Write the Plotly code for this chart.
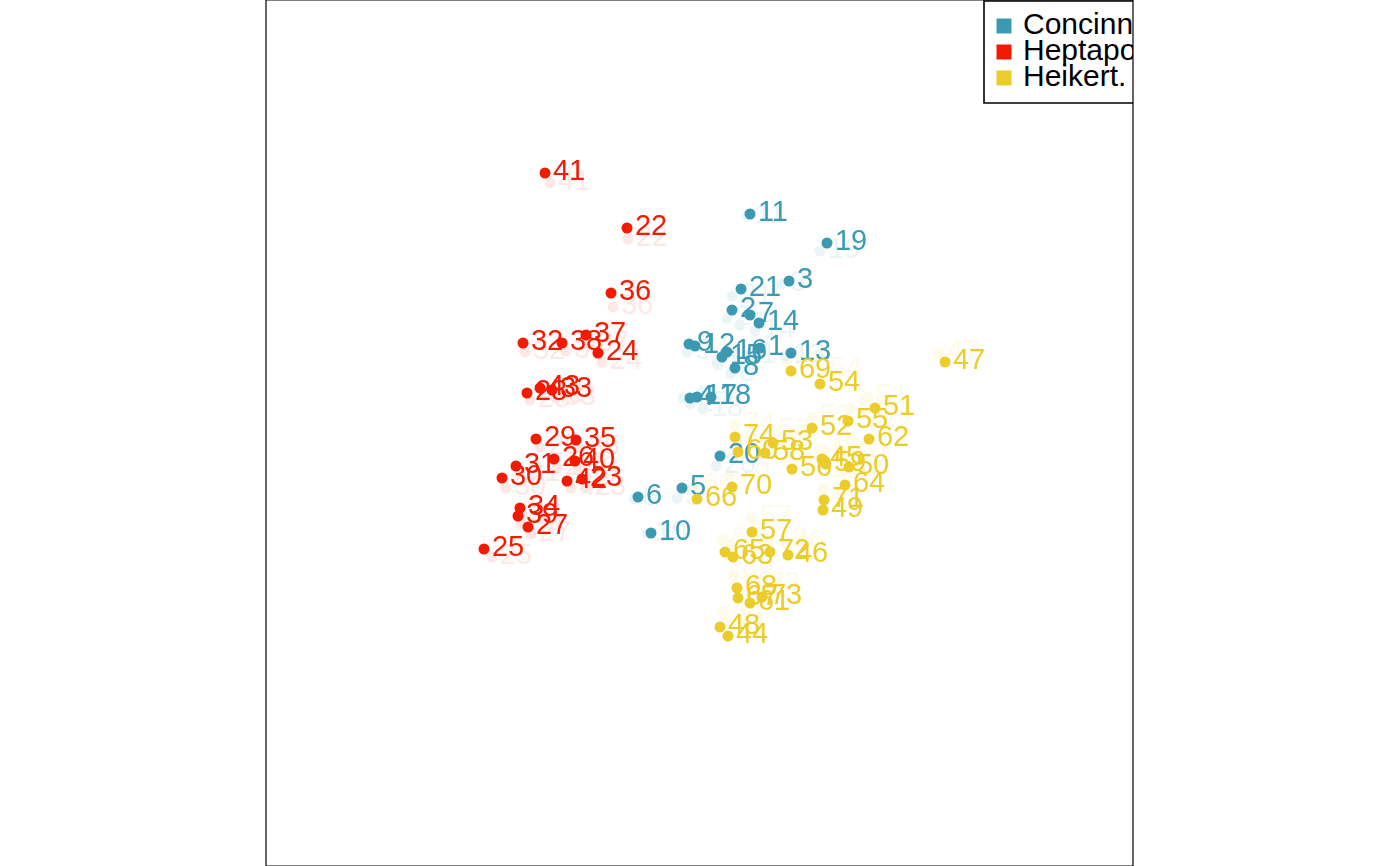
import plotly.graph_objects as go

# ---- data (positions, in plot-pixel units) ----
species = ["Concinna", "Heptapot.", "Heikert."]
colors = ["#3B9AB2", "#F21A00", "#EBCC2A"]

conc_id = list(range(1, 22))
conc_x = [760, 732, 789, 690, 682, 638, 750, 735, 689, 651, 750, 695, 791, 759, 722, 727, 697, 711, 827, 720, 741]
conc_y = [348, 310, 281, 398, 488, 497, 315, 368, 344, 533, 214, 346, 353, 323, 357, 352, 397, 397, 243, 456, 289]
conc_x0 = [752, 727, 782, 683, 677, 634, 740, 731, 687, 647, 747, 717, 785, 755, 718, 720, 690, 703, 820, 716, 732]
conc_y0 = [356, 318, 284, 398, 498, 499, 325, 374, 352, 534, 216, 363, 356, 331, 365, 360, 404, 409, 251, 466, 296]

hept_id = list(range(22, 44))
hept_x = [627, 582, 598, 484, 554, 528, 527, 536, 502, 516, 523, 552, 520, 576, 611, 586, 562, 518, 575, 545, 567, 540]
hept_y = [228, 479, 353, 549, 459, 527, 393, 439, 478, 466, 343, 390, 508, 440, 293, 335, 343, 516, 461, 173, 481, 388]
hept_x0 = [628, 586, 602, 492, 557, 531, 530, 540, 506, 520, 525, 556, 523, 580, 613, 589, 566, 521, 578, 550, 571, 544]
hept_y0 = [239, 488, 362, 557, 468, 534, 400, 447, 488, 474, 352, 398, 516, 448, 307, 344, 351, 524, 469, 183, 488, 396]

heik_id = list(range(44, 75))
heik_x = [728, 822, 788, 945, 720, 823, 849, 875, 812, 773, 820, 848, 792, 752, 765, 826, 738, 750, 869, 733, 845, 725, 697, 738, 737, 791, 732, 824, 770, 762, 735]
heik_y = [636, 459, 555, 362, 627, 510, 467, 408, 428, 443, 384, 421, 469, 532, 453, 464, 452, 603, 439, 557, 485, 552, 499, 598, 588, 371, 487, 500, 552, 597, 437]
heik_x0 = [726, 820, 785, 939, 723, 822, 846, 868, 812, 770, 822, 850, 790, 752, 762, 824, 736, 748, 872, 731, 843, 723, 694, 735, 734, 787, 730, 823, 768, 760, 735]
heik_y0 = [622, 450, 543, 353, 612, 497, 456, 397, 417, 431, 370, 408, 457, 518, 441, 452, 441, 590, 424, 545, 472, 540, 486, 585, 575, 362, 475, 488, 540, 585, 425]

legend_x = [1004, 1004, 1004]
legend_y = [26, 52, 78]

groups = [
    (conc_id, conc_x, conc_y, conc_x0, conc_y0),
    (hept_id, hept_x, hept_y, hept_x0, hept_y0),
    (heik_id, heik_x, heik_y, heik_x0, heik_y0),
]

FONT = "Liberation Sans, Arial, Helvetica, sans-serif"
LABEL_SIZE = 29
DOT = 11

fig = go.Figure()

# faint previous configuration
for (ids, x, y, x0, y0), col in zip(groups, colors):
    fig.add_trace(go.Scatter(
        x=x0, y=y0, mode="markers+text", text=[str(i) for i in ids],
        textposition="middle right",
        marker=dict(size=DOT, color=col, line=dict(width=0)),
        textfont=dict(family=FONT, size=LABEL_SIZE, color=col),
        opacity=0.1, showlegend=False, hoverinfo="skip"))

# current configuration
for (ids, x, y, x0, y0), col in zip(groups, colors):
    fig.add_trace(go.Scatter(
        x=x, y=y, mode="markers+text", text=[str(i) for i in ids],
        textposition="middle right",
        marker=dict(size=DOT, color=col, line=dict(width=0)),
        textfont=dict(family=FONT, size=LABEL_SIZE, color=col),
        showlegend=False, hoverinfo="skip"))

# legend drawn inside the plot region (clipped at the right edge)
fig.add_trace(go.Scatter(
    x=legend_x, y=legend_y, mode="markers",
    marker=dict(symbol="square", size=15, color=colors, line=dict(width=0)),
    showlegend=False, hoverinfo="skip"))
fig.add_trace(go.Scatter(
    x=[lx + 19 for lx in legend_x], y=legend_y, mode="text", text=species,
    textposition="middle right", marker=dict(size=1),
    textfont=dict(family=FONT, size=30, color="black"),
    showlegend=False, hoverinfo="skip", cliponaxis=True))

fig.add_shape(type="rect", xref="x", yref="y", x0=984, x1=1250, y0=1, y1=103,
              line=dict(color="black", width=1.6), fillcolor="rgba(0,0,0,0)", layer="above")
fig.add_shape(type="rect", xref="paper", yref="paper", x0=0, x1=1, y0=0, y1=1,
              line=dict(color="black", width=1.2), layer="above")

fig.update_layout(
    width=1400, height=866,
    margin=dict(l=266, r=267, t=0, b=0),
    paper_bgcolor="white", plot_bgcolor="white",
    xaxis=dict(range=[266, 1133], visible=False, showgrid=False, zeroline=False, fixedrange=True),
    yaxis=dict(range=[866, 0], visible=False, showgrid=False, zeroline=False, fixedrange=True),
    showlegend=False,
)

fig.write_html("out.html")
